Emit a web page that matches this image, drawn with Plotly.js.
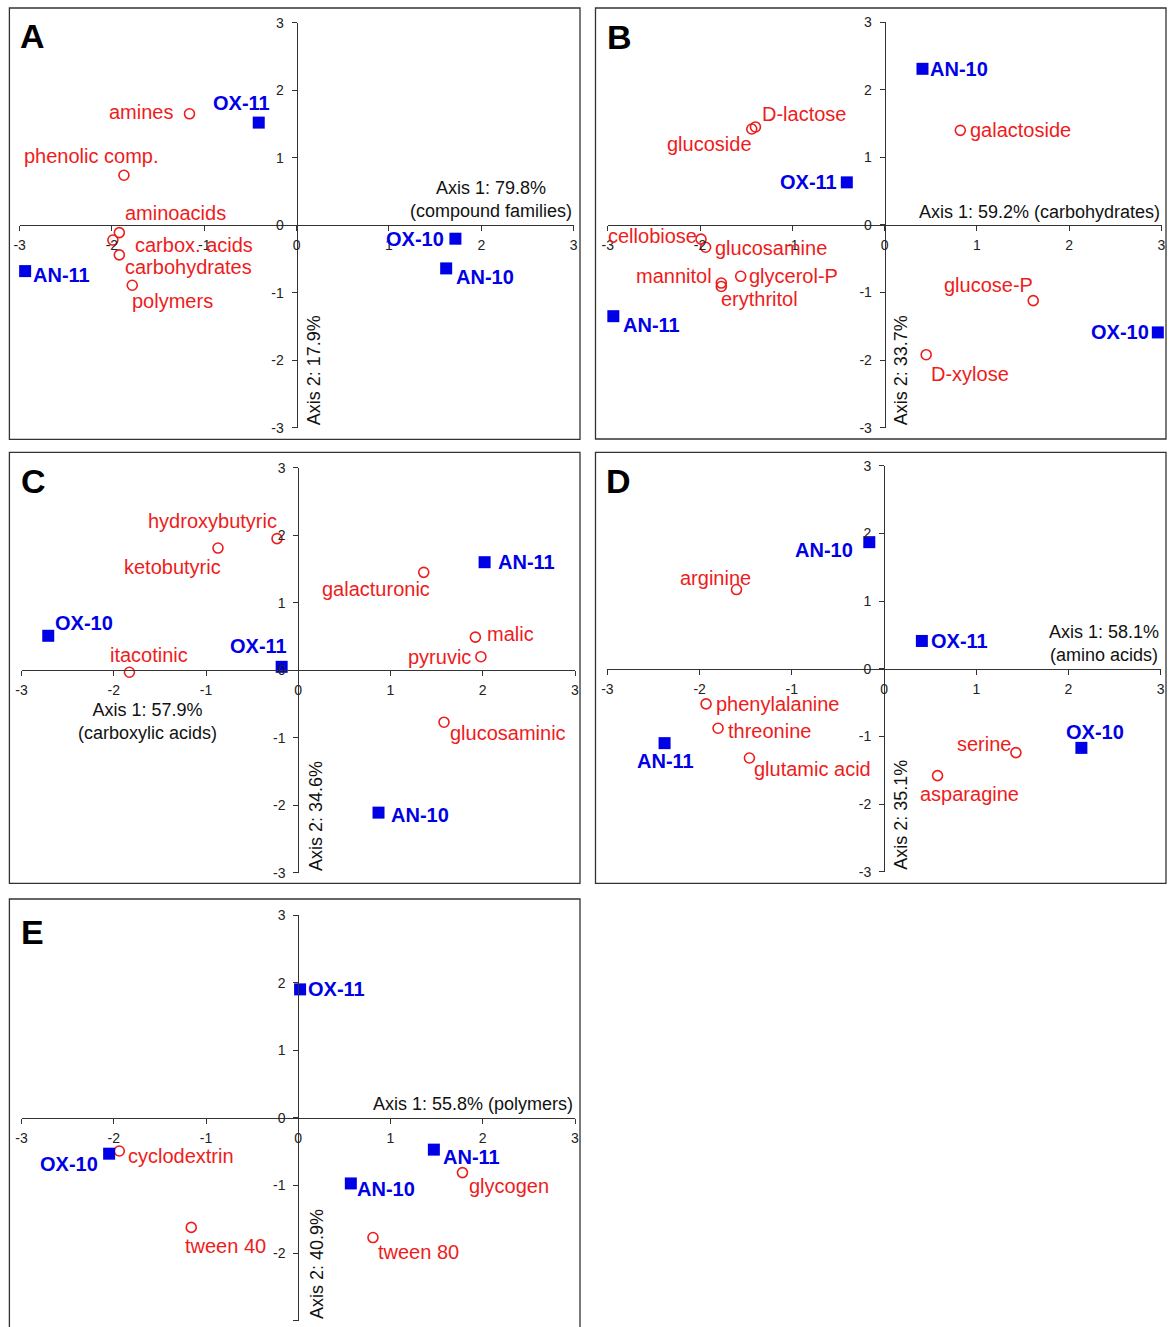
<!DOCTYPE html>
<html>
<head>
<meta charset="utf-8">
<script src="https://cdn.plot.ly/plotly-3.0.1.min.js"></script>
<style>
  html, body { margin: 0; padding: 0; background: #ffffff; }
  #chart { width: 1170px; height: 1327px; }
</style>
</head>
<body>
<div id="chart"></div>
<script>
// ---------------- DATA ----------------
const tickVals = [-3, -2, -1, 0, 1, 2, 3];
const tickText = ['-3', '-2', '-1', '0', '1', '2', '3'];

const panelLetters = ['A', 'B', 'C', 'D', 'E'];
const axis1Titles = [
  'Axis 1: 79.8%<br>(compound families)',
  'Axis 1: 59.2% (carbohydrates)',
  'Axis 1: 57.9%<br>(carboxylic acids)',
  'Axis 1: 58.1%<br>(amino acids)',
  'Axis 1: 55.8% (polymers)'
];
const axis2Titles = ['Axis 2: 17.9%', 'Axis 2: 33.7%', 'Axis 2: 34.6%', 'Axis 2: 35.1%', 'Axis 2: 40.9%'];

// Panel A - compound families
const A_sampleNames = ['OX-11', 'OX-10', 'AN-10', 'AN-11'];
const A_sampleX = [-0.41, 1.72, 1.62, -2.94];
const A_sampleY = [1.52, -0.20, -0.64, -0.68];
const A_varNames = ['amines', 'phenolic comp.', 'aminoacids', 'carbox. acids', 'carbohydrates', 'polymers'];
const A_varX = [-1.16, -1.87, -1.92, -1.99, -1.92, -1.78];
const A_varY = [1.65, 0.74, -0.11, -0.22, -0.44, -0.89];

// Panel B - carbohydrates
const B_sampleNames = ['AN-10', 'OX-11', 'AN-11', 'OX-10'];
const B_sampleX = [0.41, -0.41, -2.94, 2.96];
const B_sampleY = [2.31, 0.63, -1.35, -1.59];
const B_varNames = ['D-lactose', 'glucoside', 'galactoside', 'cellobiose', 'glucosamine', 'glycerol-P', 'mannitol', 'erythritol', 'glucose-P', 'D-xylose'];
const B_varX = [-1.40, -1.44, 0.82, -1.99, -1.94, -1.56, -1.77, -1.77, 1.61, 0.45];
const B_varY = [1.45, 1.42, 1.40, -0.21, -0.33, -0.76, -0.86, -0.91, -1.12, -1.92];

// Panel C - carboxylic acids
const C_sampleNames = ['OX-10', 'OX-11', 'AN-11', 'AN-10'];
const C_sampleX = [-2.71, -0.18, 2.02, 0.87];
const C_sampleY = [0.51, 0.05, 1.60, -2.11];
const C_varNames = ['hydroxybutyric', 'ketobutyric', 'galacturonic', 'malic', 'pyruvic', 'itacotinic', 'glucosaminic'];
const C_varX = [-0.23, -0.87, 1.36, 1.92, 1.98, -1.83, 1.58];
const C_varY = [1.95, 1.81, 1.45, 0.49, 0.20, -0.03, -0.77];

// Panel D - amino acids
const D_sampleNames = ['AN-10', 'OX-11', 'AN-11', 'OX-10'];
const D_sampleX = [-0.16, 0.41, -2.38, 2.14];
const D_sampleY = [1.87, 0.41, -1.10, -1.17];
const D_varNames = ['arginine', 'phenylalanine', 'threonine', 'glutamic acid', 'serine', 'asparagine'];
const D_varX = [-1.60, -1.93, -1.80, -1.46, 1.43, 0.58];
const D_varY = [1.17, -0.52, -0.88, -1.32, -1.24, -1.58];

// Panel E - polymers
const E_sampleNames = ['OX-11', 'OX-10', 'AN-11', 'AN-10'];
const E_sampleX = [0.02, -2.05, 1.47, 0.57];
const E_sampleY = [1.90, -0.53, -0.47, -0.97];
const E_varNames = ['cyclodextrin', 'glycogen', 'tween 40', 'tween 80'];
const E_varX = [-1.94, 1.78, -1.16, 0.81];
const E_varY = [-0.49, -0.81, -1.62, -1.77];

// ---------------- STYLE / LAYOUT ----------------
const W = 1170, H = 1327;
const FONT = '"Liberation Sans", Arial, Helvetica, sans-serif';
const BLUE = '#0000e6';
const RED = '#ee1c1c';
const AXC = '#333333';

// label placement per point: [xanchor, xshift(px), yshift(px, up positive)]
const A_sampleLbl = [['right', 13, 20], ['right', -9, 0], ['left', 8, -9], ['left', 6, -4]];
const A_varLbl = [['right', -14, 2], ['center', -32, 19], ['left', 4, 20], ['left', 20, -5], ['left', 4, -12], ['left', -2, -16]];
const B_sampleLbl = [['left', 6, 0], ['right', -8, 0], ['left', 8, -9], ['right', -7, 0]];
const B_varLbl = [['left', 5, 13], ['right', 2, -15], ['left', 8, 0], ['right', -2, 3], ['left', 7, -1], ['left', 6, 0], ['right', -7, 7], ['left', -2, -13], ['right', 2, 16], ['left', 3, -19]];
const C_sampleLbl = [['left', 5, 13], ['right', 7, 21], ['left', 11, 0], ['left', 10, -2]];
const C_varLbl = [['right', 2, 18], ['right', 5, -19], ['right', 8, -17], ['left', 10, 3], ['right', -8, 0], ['center', 20, 17], ['left', 4, -11]];
const D_sampleLbl = [['right', -14, -8], ['left', 7, 0], ['center', 1, -18], ['center', 14, 16]];
const D_varLbl = [['center', -21, 12], ['left', 8, 0], ['left', 8, -3], ['left', 3, -11], ['right', -3, 9], ['left', -20, -18]];
const E_sampleLbl = [['left', 6, 0], ['right', -9, -10], ['left', 7, -7], ['left', 4, -6]];
const E_varLbl = [['left', 7, -5], ['left', 5, -13], ['left', -8, -19], ['left', 3, -14]];

// panel geometry in pixels: plot x-range, plot y-range (top, bottom), border box, letter position
const geom = [
  { px: [19.6, 573.6],  py: [22.7, 427.7],  box: [9.4, 8, 580, 439.3],    letter: [18, 36],  a1: { x: 3, xanchor: 'right', yanchor: 'bottom', yshift: 2 },      a2shift: 5 },
  { px: [607.8, 1161.5], py: [22.2, 427.7],  box: [595.5, 8, 1166, 439],   letter: [605, 37], a1: { x: 3, xanchor: 'right', yanchor: 'bottom', yshift: 1 },      a2shift: 4 },
  { px: [21.5, 575],    py: [467.7, 872.7], box: [9.4, 452.3, 580, 883.3], letter: [19, 481], a1: { x: -1.63, xanchor: 'center', yanchor: 'top', yshift: -28 }, a2shift: 5 },
  { px: [607.4, 1160.7], py: [465.7, 871.7], box: [595.5, 452.3, 1166, 883.3], letter: [604, 481], a1: { x: 3, xanchor: 'right', yanchor: 'bottom', yshift: 2 }, a2shift: 5 },
  { px: [21.5, 575],    py: [915, 1320.7],  box: [9.4, 899, 580, 1345],   letter: [19, 932], a1: { x: 3, xanchor: 'right', yanchor: 'bottom', yshift: 2 },      a2shift: 6 }
];

const panels = [
  { sN: A_sampleNames, sX: A_sampleX, sY: A_sampleY, vN: A_varNames, vX: A_varX, vY: A_varY, sL: A_sampleLbl, vL: A_varLbl },
  { sN: B_sampleNames, sX: B_sampleX, sY: B_sampleY, vN: B_varNames, vX: B_varX, vY: B_varY, sL: B_sampleLbl, vL: B_varLbl },
  { sN: C_sampleNames, sX: C_sampleX, sY: C_sampleY, vN: C_varNames, vX: C_varX, vY: C_varY, sL: C_sampleLbl, vL: C_varLbl },
  { sN: D_sampleNames, sX: D_sampleX, sY: D_sampleY, vN: D_varNames, vX: D_varX, vY: D_varY, sL: D_sampleLbl, vL: D_varLbl },
  { sN: E_sampleNames, sX: E_sampleX, sY: E_sampleY, vN: E_varNames, vX: E_varX, vY: E_varY, sL: E_sampleLbl, vL: E_varLbl }
];

const fx = p => p / W;
const fy = p => 1 - p / H;

const traces = [];
const annotations = [];
const shapes = [];
const layout = {
  width: W, height: H,
  margin: { l: 0, r: 0, t: 0, b: 0, pad: 0 },
  paper_bgcolor: '#ffffff',
  plot_bgcolor: 'rgba(0,0,0,0)',
  showlegend: false,
  font: { family: FONT, color: '#222' },
  hovermode: false
};

panels.forEach((p, i) => {
  const g = geom[i];
  const n = i === 0 ? '' : String(i + 1);
  const xref = 'x' + n, yref = 'y' + n;
  const xDom = [fx(g.px[0]), fx(g.px[1])];
  const yDom = [fy(g.py[1]), fy(g.py[0])];
  const common = {
    range: [-3, 3], tickmode: 'array', tickvals: tickVals, ticktext: tickText,
    ticks: 'outside', ticklen: 5, tickwidth: 1, tickcolor: AXC,
    showline: true, linecolor: AXC, linewidth: 1,
    showgrid: false, zeroline: false, fixedrange: true,
    tickfont: { family: FONT, size: 14, color: '#222' }
  };
  layout['xaxis' + n] = Object.assign({}, common, {
    domain: xDom, anchor: 'free', position: (yDom[0] + yDom[1]) / 2, ticklabelstandoff: 2
  });
  layout['yaxis' + n] = Object.assign({}, common, {
    domain: yDom, anchor: 'free', position: (xDom[0] + xDom[1]) / 2, ticklabelstandoff: 5
  });

  // variables: red open circles
  traces.push({
    type: 'scatter', mode: 'markers', x: p.vX, y: p.vY, text: p.vN,
    xaxis: xref, yaxis: yref, cliponaxis: false,
    marker: { symbol: 'circle-open', size: 10, color: RED, line: { color: RED, width: 1.6 } }
  });
  // samples: blue filled squares
  traces.push({
    type: 'scatter', mode: 'markers', x: p.sX, y: p.sY, text: p.sN,
    xaxis: xref, yaxis: yref, cliponaxis: false,
    marker: { symbol: 'square', size: 12, color: BLUE }
  });

  p.vN.forEach((name, k) => {
    const s = p.vL[k];
    annotations.push({
      xref, yref, x: p.vX[k], y: p.vY[k], text: name, showarrow: false,
      xanchor: s[0], yanchor: 'middle', xshift: s[1], yshift: s[2],
      font: { family: FONT, size: 20, color: RED }
    });
  });
  p.sN.forEach((name, k) => {
    const s = p.sL[k];
    annotations.push({
      xref, yref, x: p.sX[k], y: p.sY[k], text: '<b>' + name + '</b>', showarrow: false,
      xanchor: s[0], yanchor: 'middle', xshift: s[1], yshift: s[2],
      font: { family: FONT, size: 20, color: BLUE }
    });
  });

  // axis 1 title
  annotations.push({
    xref, yref, x: g.a1.x, y: 0, text: axis1Titles[i], showarrow: false,
    xanchor: g.a1.xanchor, yanchor: g.a1.yanchor, yshift: g.a1.yshift, align: 'center',
    font: { family: FONT, size: 18, color: '#111' }
  });
  // axis 2 title (vertical)
  annotations.push({
    xref, yref, x: 0, y: -3, text: axis2Titles[i], showarrow: false, textangle: -90,
    xanchor: 'left', yanchor: 'bottom', xshift: g.a2shift,
    font: { family: FONT, size: 18, color: '#111' }
  });
  // panel letter
  annotations.push({
    xref: 'paper', yref: 'paper', x: fx(g.letter[0]), y: fy(g.letter[1]),
    text: '<b>' + panelLetters[i] + '</b>', showarrow: false,
    xanchor: 'left', yanchor: 'middle',
    font: { family: FONT, size: 34, color: '#000' }
  });
  // panel border
  shapes.push({
    type: 'rect', xref: 'paper', yref: 'paper',
    x0: fx(g.box[0]), x1: fx(g.box[2]), y0: fy(g.box[3]), y1: fy(g.box[1]),
    line: { color: '#333', width: 1.3 }, fillcolor: 'rgba(0,0,0,0)', layer: 'below'
  });
});

layout.annotations = annotations;
layout.shapes = shapes;

Plotly.newPlot('chart', traces, layout, { staticPlot: true, displayModeBar: false });
</script>
</body>
</html>
